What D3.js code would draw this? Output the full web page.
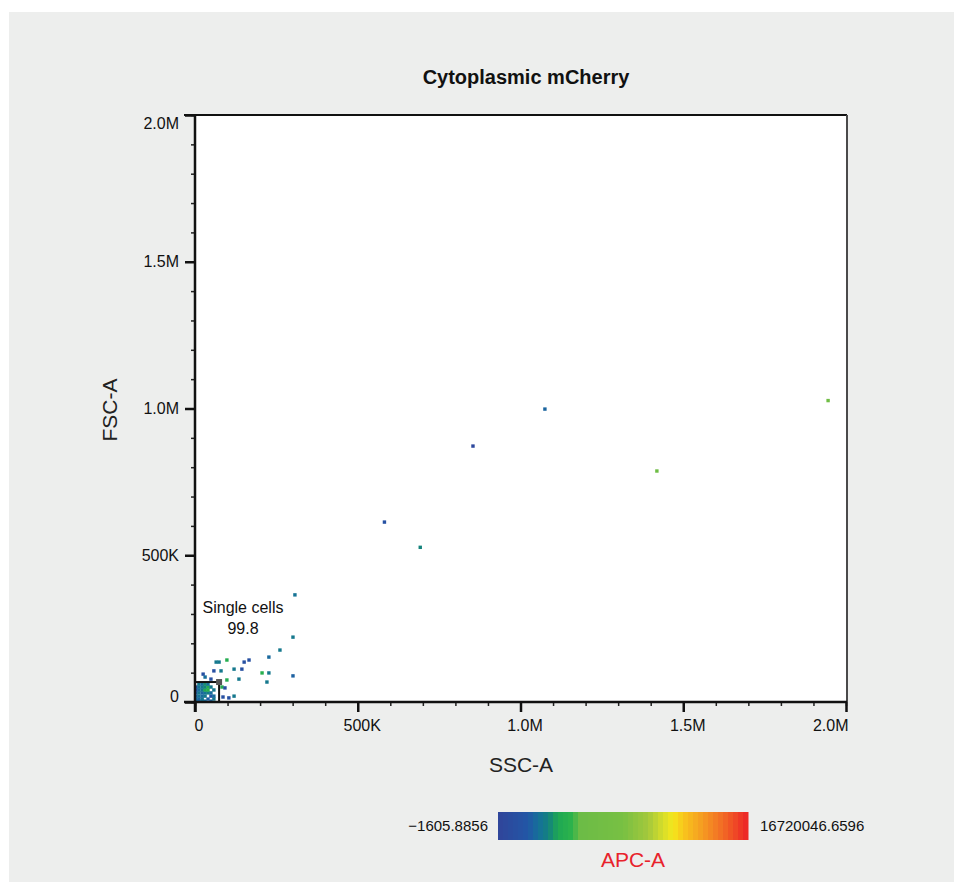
<!DOCTYPE html>
<html>
<head>
<meta charset="utf-8">
<script src="https://cdn.jsdelivr.net/npm/d3@7"></script>
<style>
  html, body { margin: 0; padding: 0; background: #ffffff; }
  svg { display: block; font-family: "Liberation Sans", Arial, Helvetica, sans-serif; }
</style>
</head>
<body>
<svg id="chart" width="954" height="882"></svg>
<script>
// ---------------- DATA ----------------
const title = "Cytoplasmic mCherry";
const xLabel = "SSC-A";
const yLabel = "FSC-A";
const colorLabel = "APC-A";
const colorMin = -1605.8856;
const colorMax = 16720046.6596;
const colorMinLabel = "\u22121605.8856";
const colorMaxLabel = "16720046.6596";

const xTicks = [0, 500000, 1000000, 1500000, 2000000];
const xTickLabels = ["0", "500K", "1.0M", "1.5M", "2.0M"];
const yTicks = [0, 500000, 1000000, 1500000, 2000000];
const yTickLabels = ["0", "500K", "1.0M", "1.5M", "2.0M"];

// SSC-A, FSC-A, APC-A for each event
const ssc = [
  1945000, 1419000, 1075000, 854000, 582000, 692000, 307000, 301000, 261000, 227000,
  166000, 151000, 98000, 65000, 74000, 120000, 144000, 80000, 58000, 206000,
  227000, 301000, 135000, 98000, 49000, 221000, 83000, 92000, 86000, 104000,
  120000, 25000, 31000,
  3000, 12000, 22000, 40000, 58000,
  3000, 12000, 22000, 31000, 49000, 58000,
  3000, 12000, 22000, 31000, 40000, 49000,
  3000, 12000, 22000, 31000, 40000, 58000,
  3000, 12000, 22000, 31000, 40000, 49000,
  12000, 22000, 31000, 40000,
  3000, 12000, 22000, 31000, 49000
];
const fsc = [
  1027000, 787000, 998000, 872000, 613000, 527000, 365000, 221000, 177000, 153000,
  143000, 136000, 143000, 136000, 136000, 112000, 112000, 106000, 106000, 99000,
  99000, 89000, 78000, 75000, 78000, 68000, 51000, 48000, 17000, 14000,
  20000, 95000, 85000,
  10000, 10000, 10000, 10000, 10000,
  20000, 20000, 20000, 20000, 20000, 20000,
  31000, 31000, 31000, 31000, 31000, 31000,
  41000, 41000, 41000, 41000, 41000, 41000,
  51000, 51000, 51000, 51000, 51000, 51000,
  61000, 61000, 61000, 61000,
  3000, 3000, 3000, 3000, 3000
];
const apc = [
  6400000, 6000000, 2400000, 500000, 1500000, 3400000, 2800000, 3000000, 3000000, 2500000,
  1300000, 1300000, 4400000, 3000000, 3000000, 3000000, 1300000, 3000000, 1300000, 4600000,
  3000000, 2300000, 3000000, 4400000, 1300000, 3000000, 4400000, 1300000, 1300000, 1300000,
  3000000, 1300000, 2600000,
  2600000, 2400000, 3000000, 2200000, 3000000,
  2400000, 2800000, 2600000, 3000000, 1800000, 2600000,
  2200000, 3000000, 2400000, 2800000, 3200000, 2600000,
  1400000, 2600000, 3000000, 4200000, 4600000, 3000000,
  1200000, 2800000, 3000000, 3400000, 4400000, 3000000,
  3000000, 2600000, 3600000, 2800000,
  2600000, 2400000, 2800000, 2600000, 2400000
];

// Gate "Single cells"
const gateName = "Single cells";
const gatePercent = "99.8";
const gateX = [0, 74000];
const gateY = [0, 68000];

// Colour map stops (fraction of range, colour)
const colorStops = [0, 0.12, 0.16, 0.2, 0.24, 0.29, 0.33, 0.5, 0.6, 0.66, 0.7, 0.74, 0.82, 0.9, 1];
const colorValues = ["#30449a", "#2256a6", "#16709a", "#138080", "#1fa853", "#2bb24c", "#6cbc46",
                     "#78c043", "#a3c83c", "#d7de2a", "#f4e71c", "#f8c71c", "#f59a22", "#f26a25", "#ec2326"];

// ---------------- CHART ----------------
const svg = d3.select("#chart");
const W = 954, H = 882;

// panel background
svg.append("rect").attr("x", 9).attr("y", 12).attr("width", W - 9).attr("height", H - 12).attr("fill", "#edeeed");

const plot = { left: 195, right: 847, top: 115, bottom: 702 };
const x = d3.scaleLinear().domain([0, 2000000]).range([plot.left, plot.right - 1]);
const y = d3.scaleLinear().domain([0, 2000000]).range([plot.bottom, plot.top]);

const colorScale = d3.scaleLinear()
  .domain(colorStops.map(s => colorMin + s * (colorMax - colorMin)))
  .range(colorValues)
  .clamp(true);

// plot area
svg.append("rect").attr("x", plot.left).attr("y", plot.top)
  .attr("width", plot.right - plot.left).attr("height", plot.bottom - plot.top).attr("fill", "#ffffff");

// events
const events = ssc.map((d, i) => ({ x: d, y: fsc[i], c: apc[i] }));
const ps = 3.4;
svg.append("g").selectAll("rect").data(events).join("rect")
  .attr("x", d => x(d.x) - ps / 2)
  .attr("y", d => y(d.y) - ps / 2)
  .attr("width", ps).attr("height", ps)
  .attr("fill", d => colorScale(d.c));

// minor ticks
const minor = d3.range(0, 2000001, 100000);
const xMinor = svg.append("g").attr("transform", `translate(0,${plot.bottom})`)
  .call(d3.axisBottom(x).tickValues(minor).tickSize(4).tickFormat(""));
const yMinor = svg.append("g").attr("transform", `translate(${plot.left},0)`)
  .call(d3.axisLeft(y).tickValues(minor).tickSize(4).tickFormat(""));
[xMinor, yMinor].forEach(g => {
  g.select(".domain").remove();
  g.selectAll("line").attr("stroke", "#222").attr("stroke-width", 1.5);
});

// major ticks
const xMajor = svg.append("g").attr("transform", `translate(0,${plot.bottom})`)
  .call(d3.axisBottom(x).tickValues(xTicks).tickSize(10).tickFormat((d, i) => xTickLabels[i]).tickPadding(8));
const yMajor = svg.append("g").attr("transform", `translate(${plot.left},0)`)
  .call(d3.axisLeft(y).tickValues(yTicks).tickSize(10).tickFormat((d, i) => yTickLabels[i]).tickPadding(6));
[xMajor, yMajor].forEach(g => {
  g.select(".domain").remove();
  g.selectAll("line").attr("stroke", "#111").attr("stroke-width", 2.5);
  g.selectAll("text").attr("font-size", 16).attr("fill", "#111")
    .attr("font-family", "'Liberation Sans', Arial, sans-serif");
});
xMajor.selectAll("text")
  .attr("text-anchor", (d, i) => i === 0 ? "start" : (i === xTicks.length - 1 ? "end" : "middle"))
  .attr("dx", (d, i) => i === 0 ? -1 : (i === xTicks.length - 1 ? 2 : 4));
yMajor.selectAll("text")
  .attr("dy", (d, i) => i === 0 ? "-0.05em" : (i === yTicks.length - 1 ? "0.85em" : "0.32em"));

// frame lines
svg.append("line").attr("x1", plot.left - 11).attr("x2", plot.right).attr("y1", plot.top).attr("y2", plot.top)
  .attr("stroke", "#111").attr("stroke-width", 2);
svg.append("line").attr("x1", plot.right).attr("x2", plot.right).attr("y1", plot.top).attr("y2", plot.bottom)
  .attr("stroke", "#4a4a4a").attr("stroke-width", 2);
svg.append("line").attr("x1", plot.left).attr("x2", plot.left).attr("y1", plot.top).attr("y2", plot.bottom + 10)
  .attr("stroke", "#111").attr("stroke-width", 2.5);
svg.append("line").attr("x1", plot.left - 11).attr("x2", plot.right).attr("y1", plot.bottom).attr("y2", plot.bottom)
  .attr("stroke", "#111").attr("stroke-width", 2.5);

// gate
svg.append("rect")
  .attr("x", x(gateX[0])).attr("y", y(gateY[1]))
  .attr("width", x(gateX[1]) - x(gateX[0])).attr("height", y(gateY[0]) - y(gateY[1]))
  .attr("fill", "none").attr("stroke", "#111").attr("stroke-width", 2);
svg.append("rect")
  .attr("x", x(gateX[1]) - 3).attr("y", y(gateY[1]) - 3)
  .attr("width", 6).attr("height", 6).attr("fill", "#555");
const gl = svg.append("text").attr("text-anchor", "middle").attr("font-size", 16).attr("fill", "#111");
gl.append("tspan").attr("x", 243).attr("y", 613).text(gateName);
gl.append("tspan").attr("x", 243).attr("y", 634).text(gatePercent);

// title & axis labels
svg.append("text").attr("x", 526).attr("y", 84).attr("text-anchor", "middle")
  .attr("font-size", 20).attr("font-weight", "bold").attr("fill", "#111").text(title);
svg.append("text").attr("x", 521).attr("y", 772).attr("text-anchor", "middle")
  .attr("font-size", 21).attr("fill", "#222").text(xLabel);
svg.append("text").attr("transform", "translate(117,410) rotate(-90)").attr("text-anchor", "middle")
  .attr("font-size", 21).attr("fill", "#222").text(yLabel);

// colour bar
const cb = { x: 498, y: 812, w: 250, h: 28, n: 50 };
const bands = d3.range(cb.n);
svg.append("g").selectAll("rect").data(bands).join("rect")
  .attr("x", i => cb.x + i * cb.w / cb.n)
  .attr("y", cb.y)
  .attr("width", cb.w / cb.n + 0.5)
  .attr("height", cb.h)
  .attr("fill", i => colorScale(colorMin + (i + 0.5) / cb.n * (colorMax - colorMin)));
svg.append("text").attr("x", cb.x - 10).attr("y", cb.y + cb.h / 2).attr("dy", "0.35em")
  .attr("text-anchor", "end").attr("font-size", 15).attr("fill", "#111").text(colorMinLabel);
svg.append("text").attr("x", cb.x + cb.w + 12).attr("y", cb.y + cb.h / 2).attr("dy", "0.35em")
  .attr("text-anchor", "start").attr("font-size", 15).attr("fill", "#111").text(colorMaxLabel);
svg.append("text").attr("x", 633).attr("y", 867).attr("text-anchor", "middle")
  .attr("font-size", 21).attr("fill", "#e8222b").text(colorLabel);
</script>
</body>
</html>
